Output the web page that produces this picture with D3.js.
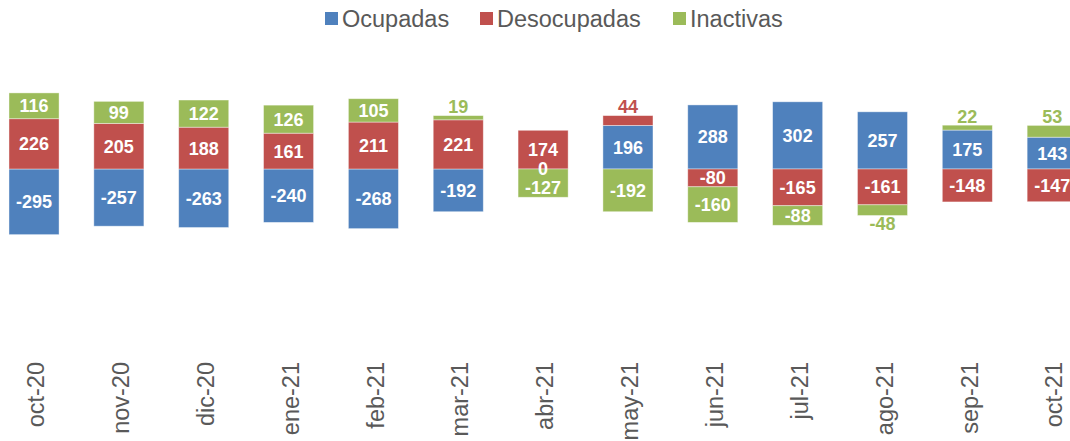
<!DOCTYPE html>
<html><head><meta charset="utf-8">
<script src="https://cdn.jsdelivr.net/npm/d3@7"></script>
<style>
body{margin:0;background:#fff;overflow:hidden}
svg{display:block;font-family:"Liberation Sans",Arial,sans-serif}
</style></head>
<body><svg id="c" width="1070" height="441"></svg>
<script>
const categories = ["oct-20","nov-20","dic-20","ene-21","feb-21","mar-21","abr-21","may-21","jun-21","jul-21","ago-21","sep-21","oct-21"];
const seriesNames = ["Ocupadas","Desocupadas","Inactivas"];
const ocupadas    = [-295,-257,-263,-240,-268,-192,0,196,288,302,257,175,143];
const desocupadas = [226,205,188,161,211,221,174,44,-80,-165,-161,-148,-147];
const inactivas   = [116,99,122,126,105,19,-127,-192,-160,-88,-48,22,53];
const colors = ["#4F81BD","#C0504D","#9BBB59"];

const rows = categories.map((c,i)=>({cat:c, Ocupadas:ocupadas[i], Desocupadas:desocupadas[i], Inactivas:inactivas[i]}));
const svg = d3.select("#c");

const x = d3.scaleBand().domain(categories).range([-8.4, 1094.6]).paddingInner(0.41).paddingOuter(0.205);
const y = d3.scaleLinear().domain([-400,400]).range([258,80]);

const stack = d3.stack().keys(seriesNames).offset(d3.stackOffsetDiverging);
const stacked = stack(rows);

const g = svg.append("g");
stacked.forEach((s,si)=>{
  g.selectAll(null).data(s).enter().append("rect")
    .attr("x", d=>x(d.data.cat))
    .attr("width", x.bandwidth())
    .attr("y", d=>y(d[1]))
    .attr("height", d=>Math.max(0,y(d[0])-y(d[1])))
    .attr("fill", colors[si])
    .attr("stroke","#fff").attr("stroke-opacity",0.5).attr("stroke-width",0.8);
});

// labels: compute positions, then resolve overlaps within each category
const labels = [];
stacked.forEach((s,si)=>{
  s.forEach(d=>{
    const v = d.data[s.key];
    const top = y(d[1]), bot = y(d[0]);
    const h = bot-top;
    const cx = x(d.data.cat)+x.bandwidth()/2;
    let ty, fill;
    if (v===0 || h>=14){ ty=(top+bot)/2; fill="#fff"; }
    else if (v>0){ ty=top-9; fill=colors[si]; }
    else { ty=bot+8; fill=colors[si]; }
    labels.push({cat:d.data.cat, cx, ty, fill, v});
  });
});
categories.forEach(c=>{
  const ls = labels.filter(l=>l.cat===c).sort((a,b)=>a.ty-b.ty);
  for(let i=1;i<ls.length;i++){
    if(ls[i].ty-ls[i-1].ty<19){
      if(ls[i-1].v===0) ls[i].ty = ls[i-1].ty+19;
      else if(ls[i].v===0) ls[i-1].ty = ls[i].ty-19;
      else ls[i].ty = ls[i-1].ty+19;
    }
  }
});
g.selectAll(".lbl").data(labels).enter().append("text").attr("class","lbl")
  .attr("x",d=>d.cx).attr("y",d=>d.ty).attr("dy","0.36em")
  .attr("text-anchor","middle").attr("font-size",18).attr("font-weight","bold")
  .attr("fill",d=>d.fill).text(d=>d.v);

// x axis labels
const ax = svg.append("g").attr("transform","translate(0,362)")
  .call(d3.axisBottom(x).tickSize(0));
ax.select(".domain").remove();
ax.selectAll("text")
  .attr("transform","rotate(-90)")
  .attr("text-anchor","end")
  .attr("x",0).attr("y",2).attr("dy","0.35em")
  .attr("font-size",23.5).attr("fill","#595959")
  .attr("font-family","Liberation Sans, Arial, sans-serif");

// legend
const legX = [325,480,673];
const leg = svg.append("g");
seriesNames.forEach((n,i)=>{
  leg.append("rect").attr("x",legX[i]).attr("y",12).attr("width",13).attr("height",13).attr("fill",colors[i]);
  leg.append("text").attr("x",legX[i]+17).attr("y",26.5).attr("font-size",23.5).attr("fill","#595959").text(n);
});
</script></body></html>
